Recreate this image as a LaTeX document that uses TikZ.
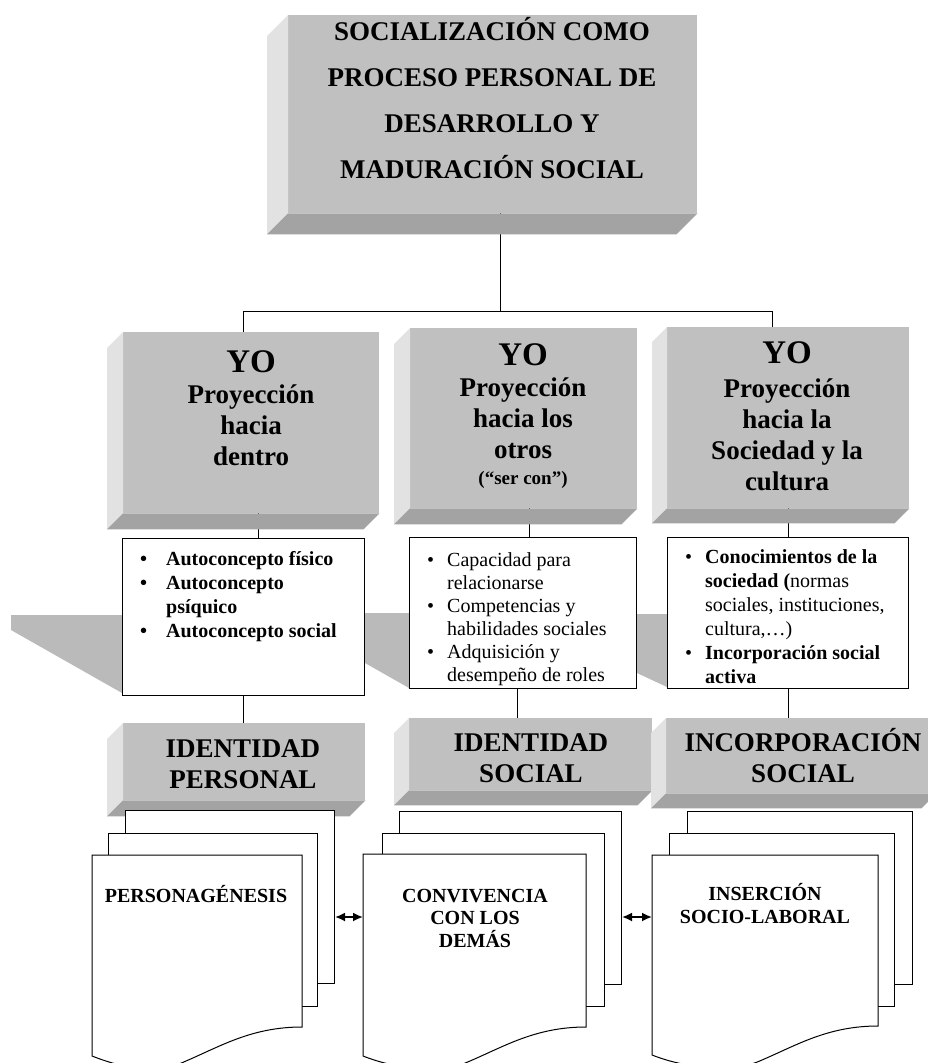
\documentclass[tikz,border=0pt]{standalone}
\usepackage{fontspec}
\setmainfont{Liberation Serif}
\usetikzlibrary{calc, arrows.meta}

\definecolor{grisfrente}{RGB}{192,192,192}
\definecolor{grisclaro}{RGB}{226,226,226}
\definecolor{grisoscuro}{RGB}{163,163,163}
\definecolor{grisbanda}{RGB}{186,186,186}

\pgfdeclarelayer{fondo}
\pgfsetlayers{fondo,main}

\newcommand{\bisel}[2]{
    \fill[grisclaro] (#1.north west) -- ++(-#2,#2) -- ($(#1.south west)+(-#2,#2)$) -- (#1.south west) -- cycle;
    \fill[grisoscuro] (#1.south west) -- ++(-#2,#2) -- ($(#1.south east)+(-#2,#2)$) -- (#1.south east) -- cycle;
}
\newcommand{\hojafrente}[1]{
    \filldraw[borde, fill = white] (#1.north west) -- (#1.north east) -- (#1.south east)
        .. controls +(-50,0) and +(35,-15) .. ++(-116,34)
        .. controls +(-25,12) and +(38,15) .. ($(#1.south west)+(0,29)$) -- cycle;
}
\newcommand{\vineta}[1][20pt]{\makebox[#1][l]{\textbullet}}
\newcommand{\sangria}[1][20pt]{\hspace*{#1}}

\tikzset{
    borde/.style = {draw = black, line width = 1pt},
    linea/.style = {draw = black, line width = 0.9pt},
    caja/.style = {fill = grisfrente, inner sep = 0pt, anchor = north west},
    lista/.style = {borde, fill = white, inner sep = 0pt, anchor = north west},
    hoja/.style = {borde, fill = white, inner sep = 0pt, anchor = north west, minimum width = #1, minimum height = 173},
    hoja/.default = 209,
    flecha/.style = {{Latex[length = 10pt, width = 9pt]}-{Latex[length = 10pt, width = 9pt]}, line width = 1.8pt},
    titulo/.style = {font = \fontsize{27}{46}\selectfont\bfseries, align = center, anchor = base},
    yo/.style = {font = \fontsize{33}{36}\selectfont\bfseries, anchor = base},
    proy/.style = {font = \fontsize{27}{31}\selectfont\bfseries, align = center, anchor = base},
    nota/.style = {font = \fontsize{19}{20}\selectfont\bfseries, anchor = base},
    item/.style = {font = \fontsize{20}{23}\selectfont, align = left, anchor = base west, inner sep = 0pt},
    itemb/.style = {item, font = \fontsize{20}{24}\selectfont\bfseries},
    cabecera/.style = {font = \fontsize{27}{31}\selectfont\bfseries, align = center, anchor = base},
    doc/.style = {font = \fontsize{20}{22.5}\selectfont\bfseries, align = center, anchor = base}
}

\begin{document}
\begin{tikzpicture}[x = 1pt, y = -1pt]
    \useasboundingbox (0,0) rectangle (928,1063);
    \clip (0,0) rectangle (928,1063);
    \begin{pgfonlayer}{fondo}
        \fill[white] (0,0) rectangle (928,1063);
    \end{pgfonlayer}

    \node[caja, minimum width = 409, minimum height = 198] (soc) at (288,15) {};
    \node[caja, minimum width = 256, minimum height = 181] (yo1) at (123,332) {};
    \node[caja, minimum width = 227, minimum height = 180] (yo2) at (410,328) {};
    \node[caja, minimum width = 242, minimum height = 181] (yo3) at (667,327) {};
    \bisel{soc}{21}
    \bisel{yo1}{16}
    \bisel{yo2}{16}
    \bisel{yo3}{15}

    \node[lista, minimum width = 242, minimum height = 157] (l1) at (122,538) {};
    \node[lista, minimum width = 227, minimum height = 151] (l2) at (409,537) {};
    \node[lista, minimum width = 241, minimum height = 151] (l3) at (667,537) {};

    \node[caja, minimum width = 242, minimum height = 77] (id1) at (123,723) {};
    \node[caja, minimum width = 243, minimum height = 72] (id2) at (409,718) {};
    \node[caja, minimum width = 270, minimum height = 75] (id3) at (666,718) {};
    \bisel{id1}{16}
    \bisel{id2}{15}
    \bisel{id3}{15}

    \node[hoja] (d1a) at (125,810) {};
    \node[hoja] (d1b) at (108,833) {};
    \node[hoja, draw = none, fill = none, minimum height = 171] (d1) at (92,855) {};
    \hojafrente{d1}
    \node[hoja = 222] (d2a) at (399,811) {};
    \node[hoja = 222] (d2b) at (382,833) {};
    \node[hoja = 222, draw = none, fill = none, minimum height = 172] (d2) at (363,854) {};
    \hojafrente{d2}
    \node[hoja = 225] (d3a) at (687,811) {};
    \node[hoja = 225] (d3b) at (669,833) {};
    \node[hoja = 225, draw = none, fill = none, minimum height = 170] (d3) at (652,855) {};
    \hojafrente{d3}

    \coordinate (flechas) at (0,917);
    \draw[flecha] (d1a.east |- flechas) -- (d2.west |- flechas);
    \draw[flecha] (d2a.east |- flechas) -- (d3.west |- flechas);

    \begin{pgfonlayer}{fondo}
        \fill[grisbanda] (11,615) -- (122,615) -- (122,693) -- (11,630) -- cycle;
        \fill[grisbanda] (365,613) -- (409,613) -- (409,688) -- (365,663) -- cycle;
        \fill[grisbanda] (637,614) -- (667,614) -- (667,687) -- (637,673) -- cycle;

        \draw[linea] ([xshift = -8]yo1.north) -- ++(0,-21) coordinate (bus) -| ([xshift = -16]yo3.north);
        \draw[linea] ([xshift = 8]soc.south) -- ([xshift = 8]soc.south |- bus);
        \draw[linea] ([xshift = 7]yo1.south) -- ([xshift = 7]yo1.south |- l1.north);
        \draw[linea] ([xshift = 6]yo2.south) -- ([xshift = 6]yo2.south |- l2.north);
        \draw[linea] (yo3.south) -- (yo3.south |- l3.north);
        \draw[linea] (l1.south) -- (l1.south |- id1.north);
        \draw[linea] ([xshift = -6]l2.south) -- ([xshift = -6]l2.south |- id2.north);
        \draw[linea] (l3.south) -- (l3.south |- id3.north);
    \end{pgfonlayer}

    \node[titulo] (soc-t) at (492,178) {SOCIALIZACIÓN COMO\\PROCESO PERSONAL DE\\DESARROLLO Y\\MADURACIÓN SOCIAL};

    \node[yo] (yo1-y) at (251,372) {YO};
    \node[proy] (yo1-t) at (251,465) {Proyección\\hacia\\dentro};
    \node[yo] (yo2-y) at (523,365) {YO};
    \node[proy] (yo2-t) at (523,458) {Proyección\\hacia los\\otros};
    \node[nota] (yo2-n) at (523,484) {(“ser con”)};
    \node[yo] (yo3-y) at (787,363) {YO};
    \node[proy] (yo3-t) at (787,490) {Proyección\\hacia la\\Sociedad y la\\cultura};

    \node[itemb] (l1-t) at (140,637) {\vineta[26pt]Autoconcepto físico\\ \vineta[26pt]Autoconcepto\\ \sangria[26pt]psíquico\\ \vineta[26pt]Autoconcepto social};
    \begin{scope}
        \clip (l2.north west) rectangle (l2.south east);
        \node[item] (l2-t) at (427,681) {\vineta Capacidad para\\ \sangria relacionarse\\ \vineta Competencias y\\ \sangria habilidades sociales\\ \vineta Adquisición y\\ \sangria desempeño de roles};
    \end{scope}
    \node[item, font = \fontsize{20}{24}\selectfont] (l3-t) at (685,683) {\vineta\textbf{Conocimientos de la}\\ \sangria\textbf{sociedad (}normas\\ \sangria sociales, instituciones,\\ \sangria cultura,…)\\ \vineta\textbf{Incorporación social}\\ \sangria\textbf{activa}};

    \node[cabecera] (id1-t) at (243,788) {IDENTIDAD\\PERSONAL};
    \node[cabecera] (id2-t) at (531,782) {IDENTIDAD\\SOCIAL};
    \node[cabecera] (id3-t) at (803,782) {INCORPORACIÓN\\SOCIAL};

    \node[doc] (d1-t) at (196,902) {PERSONAGÉNESIS};
    \node[doc] (d2-t) at (475,947) {CONVIVENCIA\\CON LOS\\DEMÁS};
    \node[doc] (d3-t) at (765,923) {INSERCIÓN\\SOCIO-LABORAL};
\end{tikzpicture}
\end{document}
